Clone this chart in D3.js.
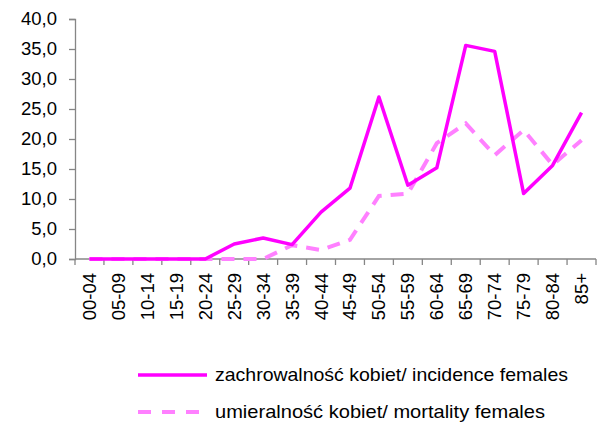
<html>
<head>
<meta charset="utf-8">
<script src="https://d3js.org/d3.v7.min.js"></script>
<style>
body { margin: 0; background: #fff; }
text { font-family: "Liberation Sans", Arial, sans-serif; fill: #000; }
</style>
</head>
<body>
<div id="chart"></div>
<script>
var ageGroups = ["00-04","05-09","10-14","15-19","20-24","25-29","30-34","35-39","40-44",
                 "45-49","50-54","55-59","60-64","65-69","70-74","75-79","80-84","85+"];
var incidence = [0,0,0,0,0,2.5,3.5,2.4,7.8,11.8,27.0,12.3,15.2,35.6,34.6,10.9,15.6,24.4];
var mortality = [0,0,0,0,0,0,0,2.3,1.5,3.2,10.5,10.9,19.3,22.6,17.3,21.5,15.7,19.8];
var yTicks = [0,5,10,15,20,25,30,35,40];
var seriesNames = ["zachrowalność kobiet/ incidence females", "umieralność kobiet/ mortality females"];

var width = 601, height = 423;

var svg = d3.select("#chart").append("svg")
    .attr("width", width)
    .attr("height", height);

var x = d3.scaleBand()
    .domain(ageGroups)
    .range([75, 596]);

var y = d3.scaleLinear()
    .domain([0, 40])
    .range([259, 19]);

var axisColor = "#868686";

// y axis
var yAxis = svg.append("g")
    .attr("transform", "translate(75,0)")
    .call(d3.axisLeft(y).tickValues(yTicks).tickSize(6).tickPadding(12)
      .tickFormat(function(d) { return d3.format(".1f")(d).replace(".", ","); }));
yAxis.select(".domain").attr("stroke", axisColor).attr("stroke-width", 1.3);
yAxis.selectAll(".tick line").attr("stroke", axisColor).attr("stroke-width", 1.3);
yAxis.selectAll(".tick text").style("font-size", "18.5px").attr("fill", "#000");

// x axis (labels at centers, ticks between categories)
var xAxis = svg.append("g")
    .attr("transform", "translate(0,259)")
    .call(d3.axisBottom(x).tickSize(0).tickSizeOuter(0));
xAxis.select(".domain").remove();
xAxis.selectAll(".tick text")
    .style("font-size", "18.5px")
    .attr("fill", "#000")
    .attr("text-anchor", "end")
    .attr("transform", "rotate(-90)")
    .attr("x", -14)
    .attr("y", 0)
    .attr("dy", "0.35em");

svg.append("line")
    .attr("x1", 75).attr("x2", 596)
    .attr("y1", 259).attr("y2", 259)
    .attr("stroke", axisColor).attr("stroke-width", 1.3);

var edges = ageGroups.map(function(d) { return x(d); }).concat([x.range()[1]]);
svg.append("g").selectAll("line")
    .data(edges)
    .enter().append("line")
    .attr("x1", function(d) { return d; })
    .attr("x2", function(d) { return d; })
    .attr("y1", 259).attr("y2", 265)
    .attr("stroke", axisColor).attr("stroke-width", 1.3);

var line = d3.line()
    .x(function(d, i) { return x(ageGroups[i]) + x.bandwidth() / 2; })
    .y(function(d) { return y(d); });

svg.append("path")
    .datum(mortality)
    .attr("d", line)
    .attr("fill", "none")
    .attr("stroke", "#ff80ff")
    .attr("stroke-width", 4)
    .attr("stroke-dasharray", "13,9");

svg.append("path")
    .datum(incidence)
    .attr("d", line)
    .attr("fill", "none")
    .attr("stroke", "#ff00ff")
    .attr("stroke-width", 3.5)
    .attr("stroke-linejoin", "round");

// legend
var legend = svg.append("g");
legend.append("line")
    .attr("x1", 138).attr("x2", 207)
    .attr("y1", 375).attr("y2", 375)
    .attr("stroke", "#ff00ff").attr("stroke-width", 3.5);
legend.append("text")
    .attr("x", 215).attr("y", 381)
    .style("font-size", "18.5px")
    .attr("textLength", 353)
    .attr("lengthAdjust", "spacingAndGlyphs")
    .text(seriesNames[0]);
legend.append("line")
    .attr("x1", 138).attr("x2", 207)
    .attr("y1", 412).attr("y2", 412)
    .attr("stroke", "#ff80ff").attr("stroke-width", 4)
    .attr("stroke-dasharray", "13,11");
legend.append("text")
    .attr("x", 215).attr("y", 418)
    .style("font-size", "18.5px")
    .attr("textLength", 330)
    .attr("lengthAdjust", "spacingAndGlyphs")
    .text(seriesNames[1]);
</script>
</body>
</html>
